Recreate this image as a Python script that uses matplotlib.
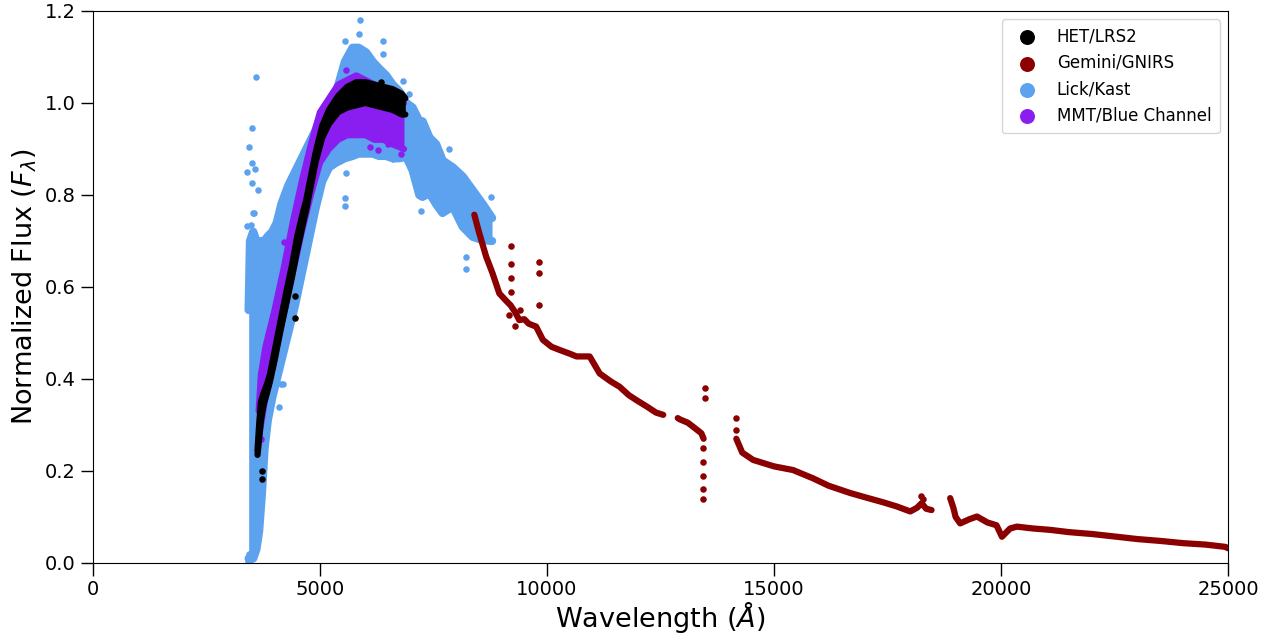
import numpy as np
import matplotlib.pyplot as plt

# ---- HET/LRS2 (black): band ----
het_wave = [3625, 3660, 3700, 3760, 3820, 3900, 4000, 4120, 4250, 4380, 4500, 4620, 4700,
            4800, 4900, 5050, 5200, 5400, 5600, 5800, 6000, 6200, 6400, 6600, 6800, 6880]
het_lo = [0.235, 0.27, 0.31, 0.345, 0.365, 0.395, 0.44, 0.50, 0.56, 0.62, 0.68, 0.735, 0.77,
          0.82, 0.87, 0.925, 0.955, 0.98, 0.99, 0.995, 1.0, 0.995, 0.99, 0.985, 0.975, 0.975]
het_hi = [0.245, 0.30, 0.35, 0.37, 0.385, 0.41, 0.46, 0.52, 0.585, 0.645, 0.71, 0.76, 0.79,
          0.84, 0.89, 0.95, 0.985, 1.015, 1.035, 1.045, 1.045, 1.04, 1.035, 1.03, 1.02, 1.01]
het_out_wave = [3720, 3720, 4448, 4448, 6345]
het_out_flux = [0.200, 0.182, 0.580, 0.532, 1.046]

# ---- MMT/Blue Channel (purple) ----
mmt_wave = [3650, 3700, 3800, 3900, 4000, 4200, 4400, 4600, 4800, 5000, 5200, 5400, 5600,
            5800, 6000, 6200, 6400, 6600, 6850]
mmt_lo = [0.27, 0.30, 0.36, 0.40, 0.45, 0.54, 0.63, 0.72, 0.80, 0.87, 0.90, 0.92, 0.93,
          0.93, 0.93, 0.92, 0.92, 0.91, 0.90]
mmt_hi = [0.33, 0.41, 0.47, 0.51, 0.55, 0.64, 0.74, 0.83, 0.91, 0.98, 1.01, 1.04, 1.05,
          1.06, 1.05, 1.04, 1.02, 1.01, 1.00]
mmt_out_wave = [5573, 6785, 6270, 4200, 6100, 6500, 3700, 3680]
mmt_out_flux = [1.072, 0.890, 0.898, 0.697, 0.905, 0.910, 0.27, 0.30]

# ---- Lick/Kast (light blue) ----
lick_wave = [3430, 3460, 3530, 3600, 3660, 3720, 3780, 3850, 3950, 4050, 4150, 4300, 4450,
             4600, 4750, 4900, 5050, 5200, 5350, 5550, 5720, 5850, 6015, 6160, 6300, 6456,
             6600, 6750, 6900, 7040, 7190, 7260, 7410, 7560, 7700, 7925, 8145, 8365, 8586,
             8790]
lick_lo = [0.01, 0.01, 0.01, 0.03, 0.07, 0.15, 0.25, 0.31, 0.36, 0.40, 0.44, 0.50, 0.56,
           0.63, 0.70, 0.77, 0.83, 0.86, 0.87, 0.88, 0.885, 0.89, 0.89, 0.89, 0.885, 0.885,
           0.88, 0.88, 0.883, 0.854, 0.80, 0.796, 0.804, 0.78, 0.761, 0.775, 0.731, 0.709,
           0.702, 0.70]
lick_hi = [0.55, 0.70, 0.72, 0.70, 0.69, 0.70, 0.70, 0.71, 0.72, 0.74, 0.78, 0.82, 0.85,
           0.88, 0.91, 0.94, 0.98, 1.00, 1.02, 1.09, 1.12, 1.12, 1.11, 1.09, 1.075, 1.06,
           1.04, 1.025, 1.0, 0.99, 0.96, 0.96, 0.925, 0.91, 0.875, 0.86, 0.84, 0.81,
           0.78, 0.75]
lick_out_wave = [3588, 3514, 3441, 3514, 3404, 3573, 3500, 3625, 3551, 3536, 3404, 3485,
                 5882, 5852, 6396, 5558, 6396, 6822, 6970, 5573, 5558, 5558, 5205, 6602,
                 6050, 7226, 7850, 8770, 8220, 8220, 4176, 4102, 4102, 4140, 4911, 3420,
                 3440, 3470]
lick_out_flux = [1.056, 0.945, 0.905, 0.870, 0.851, 0.856, 0.827, 0.811, 0.760, 0.760,
                 0.733, 0.735, 1.180, 1.150, 1.134, 1.135, 1.107, 1.048, 1.020, 0.848,
                 0.794, 0.775, 0.875, 0.878, 0.916, 0.766, 0.900, 0.796, 0.666, 0.640,
                 0.390, 0.440, 0.340, 0.390, 0.785, 0.005, 0.02, 0.0]

# ---- Gemini/GNIRS (dark red), NaN marks the telluric gaps ----
gem_wave = [8400, 8500, 8660, 8800, 8950, 9100, 9200, 9300, 9390, 9500, 9600, 9760, 9910,
            10100, 10280, 10500, 10650, 10940, 11160, 11400, 11600, 11800, 11970, 12200,
            12400, 12560, np.nan,
            12880, 12930, 13100, 13220, 13400, 13450, np.nan,
            14170, 14300, 14540, 15000, 15420, 15860, 16200, 16680, 17000, 17400, 17700,
            18000, 18150, 18250, 18350, 18470, np.nan,
            18880, 18950, 19000, 19100, 19300, 19470, 19700, 19900, 20020, 20200, 20350,
            20700, 21080, 21500, 22000, 22550, 23000, 23500, 24020, 24500, 24940, 25000]
gem_flux = [0.757, 0.72, 0.666, 0.63, 0.586, 0.57, 0.56, 0.545, 0.528, 0.53, 0.52, 0.514,
            0.485, 0.47, 0.463, 0.455, 0.449, 0.449, 0.412, 0.395, 0.383, 0.365, 0.354,
            0.34, 0.327, 0.322, np.nan,
            0.315, 0.312, 0.305, 0.296, 0.282, 0.27, np.nan,
            0.27, 0.24, 0.224, 0.21, 0.202, 0.184, 0.168, 0.152, 0.143, 0.132, 0.123,
            0.112, 0.12, 0.13, 0.118, 0.115, np.nan,
            0.141, 0.12, 0.10, 0.086, 0.095, 0.101, 0.088, 0.082, 0.057, 0.075, 0.079,
            0.075, 0.072, 0.067, 0.063, 0.057, 0.052, 0.048, 0.043, 0.040, 0.035, 0.032]
gem_out_wave = [9210, 9210, 9210, 9210, 9830, 9830, 9830, 13490, 13490, 13430, 13430,
                13430, 13440, 13440, 14170, 14170, 18230, 18280, 9300, 9170, 9400]
gem_out_flux = [0.688, 0.65, 0.62, 0.59, 0.655, 0.631, 0.561, 0.381, 0.359, 0.25, 0.22,
                0.19, 0.16, 0.14, 0.315, 0.289, 0.145, 0.14, 0.515, 0.54, 0.55]

c_het = 'black'
c_gem = '#8b0000'
c_lick = '#5da2ef'
c_mmt = '#8a1ef0'

fig = plt.figure(figsize=(12.73, 6.38), dpi=100)
ax = fig.add_axes([0.073, 0.1176, 0.8917, 0.8652])

s = 22


def band(w, lo, hi, ow, of, color, z, label, lw):
    ax.fill_between(w, lo, hi, color=color, lw=0, zorder=z)
    ax.plot(w, lo, color=color, lw=lw, zorder=z, solid_capstyle='round',
            solid_joinstyle='round')
    ax.plot(w, hi, color=color, lw=lw, zorder=z, solid_capstyle='round',
            solid_joinstyle='round')
    return ax.scatter(ow, of, s=s, color=color, lw=0, zorder=z, label=label)


h_lick = band(lick_wave, lick_lo, lick_hi, lick_out_wave, lick_out_flux, c_lick, 1,
              'Lick/Kast', 6)
h_mmt = band(mmt_wave, mmt_lo, mmt_hi, mmt_out_wave, mmt_out_flux, c_mmt, 2,
             'MMT/Blue Channel', 4.5)
h_het = band(het_wave, het_lo, het_hi, het_out_wave, het_out_flux, c_het, 3,
             'HET/LRS2', 4.5)

ax.plot(gem_wave, gem_flux, color=c_gem, lw=4.5, zorder=4, solid_capstyle='round',
        solid_joinstyle='round')
h_gem = ax.scatter(gem_out_wave, gem_out_flux, s=s, color=c_gem, lw=0, zorder=4,
                   label='Gemini/GNIRS')

ax.set_xlim(0, 25000)
ax.set_ylim(0, 1.2)
ax.set_xticks([0, 5000, 10000, 15000, 20000, 25000])
ax.set_yticks([0.0, 0.2, 0.4, 0.6, 0.8, 1.0, 1.2])
ax.tick_params(direction='out', length=9, width=1, labelsize=14)
ax.set_xlabel(r'Wavelength ($\AA$)', fontsize=19.5, labelpad=0)
ax.set_ylabel(r'Normalized Flux ($F_\lambda$)', fontsize=19.5)

ax.legend(handles=[h_het, h_gem, h_lick, h_mmt], loc='upper right', fontsize=12,
          markerscale=2.3, handletextpad=0.8, borderpad=0.5)

fig.savefig('out.png', dpi=100)
